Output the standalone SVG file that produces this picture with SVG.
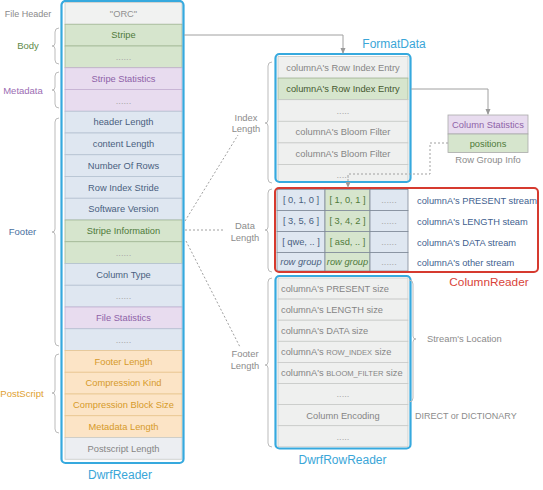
<svg xmlns="http://www.w3.org/2000/svg" width="543" height="490" viewBox="0 0 543 490">
<defs>
<marker id="arr" viewBox="0 0 6 6" refX="5" refY="3" markerWidth="6" markerHeight="6" orient="auto" markerUnits="userSpaceOnUse">
<path d="M0,0.5 L6,3 L0,5.5 z" fill="#999"/>
</marker>
<style>
text{font-family:"Liberation Sans",Arial,sans-serif;font-size:9.3px}
.c{text-anchor:middle}
.g rect{fill:#d6e5cd;stroke:#a3b896;stroke-width:0.8}
.g text{fill:#4f7a3a}
.p rect{fill:#e8dcef;stroke:#c4b0d2;stroke-width:0.8}
.p text{fill:#8e62a8}
.b rect{fill:#dfe7f1;stroke:#b5c2d2;stroke-width:0.8}
.b text{fill:#4a5f80}
.o rect{fill:#fce4c6;stroke:#e8c590;stroke-width:0.8}
.o text{fill:#d69a2a}
.n rect{fill:#eff0ef;stroke:#c8cac8;stroke-width:0.8}
.n text{fill:#858585}
.dots{fill:#aaa!important}
.outer{fill:none;stroke:#36a9de;stroke-width:2.2}
.title{font-size:12px;fill:#3aa6d8}
.side{font-size:9.5px}
.brace{fill:none;stroke:#bbb;stroke-width:1}
.lbl{font-size:9.4px;fill:#8c8c8c}
.conn{fill:none;stroke:#a0a0a0;stroke-width:1}
.dot{fill:none;stroke:#a0a0a0;stroke-width:1;stroke-dasharray:2,2}
.grid rect{stroke:#7f8b98;stroke-width:0.8}
.sm{font-size:7.6px}
</style>
</defs>
<rect width="543" height="490" fill="#ffffff"/>

<!-- Left side labels -->
<g id="left-labels">
<text class="c" x="28" y="17" fill="#8a8a8a" style="font-size:9px">File Header</text>
<text class="c side" x="28" y="49" fill="#5e8a4a">Body</text>
<text class="c side" x="23" y="94" fill="#9b6cb3">Metadata</text>
<text class="c side" x="22.5" y="235" fill="#4a6fa0">Footer</text>
<text class="c side" x="22" y="397" fill="#e0a030">PostScript</text>
<path class="brace" d="M59,28 Q55,28 55,32 L55,43 Q55,46 52,46 Q55,46 55,49 L55,60 Q55,64 59,64"/>
<path class="brace" d="M59,72 Q55,72 55,76 L55,87 Q55,90 52,90 Q55,90 55,93 L55,104 Q55,108 59,108"/>
<path class="brace" d="M59,118 Q55,118 55,122 L55,229 Q55,232 52,232 Q55,232 55,235 L55,342 Q55,346 59,346"/>
<path class="brace" d="M59,354 Q55,354 55,358 L55,390 Q55,393 52,393 Q55,393 55,396 L55,429 Q55,433 59,433"/>
</g>

<!-- DwrfReader -->
<g id="dwrf-reader">
<g class="n"><rect x="65" y="2.5" width="117" height="21.75" style="fill:#f1f2f1"/><text class="c" x="123.5" y="16.7" style="fill:#909090">"ORC"</text></g>
<g class="g"><rect x="65" y="24.25" width="117" height="21.75"/><text class="c" x="123.5" y="38.4">Stripe</text></g>
<g class="g"><rect x="65" y="46" width="117" height="21.75"/><text class="c dots" x="123.5" y="60.2">......</text></g>
<g class="p"><rect x="65" y="67.75" width="117" height="21.75"/><text class="c" x="123.5" y="81.9">Stripe Statistics</text></g>
<g class="p"><rect x="65" y="89.5" width="117" height="21.75"/><text class="c dots" x="123.5" y="103.7">......</text></g>
<g class="b"><rect x="65" y="111.25" width="117" height="21.75"/><text class="c" x="123.5" y="125.4">header Length</text></g>
<g class="b"><rect x="65" y="133" width="117" height="21.75"/><text class="c" x="123.5" y="147.2">content Length</text></g>
<g class="b"><rect x="65" y="154.75" width="117" height="21.75"/><text class="c" x="123.5" y="168.9">Number Of Rows</text></g>
<g class="b"><rect x="65" y="176.5" width="117" height="21.75"/><text class="c" x="123.5" y="190.7">Row Index Stride</text></g>
<g class="b"><rect x="65" y="198.25" width="117" height="21.75"/><text class="c" x="123.5" y="212.4">Software Version</text></g>
<g class="g"><rect x="65" y="220" width="117" height="21.75"/><text class="c" x="123.5" y="234.2">Stripe Information</text></g>
<g class="g"><rect x="65" y="241.75" width="117" height="21.75"/><text class="c dots" x="123.5" y="255.9">......</text></g>
<g class="b"><rect x="65" y="263.5" width="117" height="21.75"/><text class="c" x="123.5" y="277.7">Column Type</text></g>
<g class="b"><rect x="65" y="285.25" width="117" height="21.75"/><text class="c dots" x="123.5" y="299.4">......</text></g>
<g class="p"><rect x="65" y="307" width="117" height="21.75"/><text class="c" x="123.5" y="321.2">File Statistics</text></g>
<g class="b"><rect x="65" y="328.75" width="117" height="21.75"/><text class="c dots" x="123.5" y="342.9">......</text></g>
<g class="o"><rect x="65" y="350.5" width="117" height="21.75"/><text class="c" x="123.5" y="364.7">Footer Length</text></g>
<g class="o"><rect x="65" y="372.25" width="117" height="21.75"/><text class="c" x="123.5" y="386.4">Compression Kind</text></g>
<g class="o"><rect x="65" y="394" width="117" height="21.75"/><text class="c" x="123.5" y="408.2">Compression Block Size</text></g>
<g class="o"><rect x="65" y="415.75" width="117" height="21.75"/><text class="c" x="123.5" y="429.9">Metadata Length</text></g>
<g class="n"><rect x="65" y="437.5" width="117" height="21.75" style="fill:#eceef2"/><text class="c" x="123.5" y="451.7">Postscript Length</text></g>
<rect class="outer" x="61.5" y="1" width="122" height="462" rx="4"/>
<text class="c title" x="120" y="479">DwrfReader</text>
</g>

<!-- Middle labels and braces -->
<g id="length-labels">
<text class="c lbl" x="246" y="121">Index</text>
<text class="c lbl" x="246" y="132">Length</text>
<path class="brace" d="M272,62 Q268,62 268,66 L268,120 Q268,123 265,123 Q268,123 268,126 L268,179 Q268,183 272,183"/>
<text class="c lbl" x="245" y="229">Data</text>
<text class="c lbl" x="245" y="241">Length</text>
<path class="brace" d="M272,189 Q268,189 268,193 L268,227 Q268,230 265,230 Q268,230 268,233 L268,268 Q268,272 272,272"/>
<text class="c lbl" x="245" y="357">Footer</text>
<text class="c lbl" x="245" y="369">Length</text>
<path class="brace" d="M272,278 Q268,278 268,282 L268,362 Q268,365 265,365 Q268,365 268,368 L268,443 Q268,447 272,447"/>
</g>

<!-- FormatData -->
<g id="format-data">
<g class="n"><rect x="278" y="56.5" width="130" height="21.6"/><text class="c" x="343" y="70.6">columnA's Row Index Entry</text></g>
<g class="g"><rect x="278" y="78.1" width="130" height="21.6"/><text class="c" x="343" y="92.2" style="fill:#44582f">columnA's Row Index Entry</text></g>
<g class="n"><rect x="278" y="99.7" width="130" height="21.6"/><text class="c dots" x="343" y="113.8">.....</text></g>
<g class="n"><rect x="278" y="121.3" width="130" height="21.6"/><text class="c" x="343" y="135.4">columnA's Bloom Filter</text></g>
<g class="n"><rect x="278" y="142.9" width="130" height="21.6"/><text class="c" x="343" y="157">columnA's Bloom Filter</text></g>
<g class="n"><rect x="278" y="164.5" width="130" height="17"/><text class="c dots" x="343" y="178">.....</text></g>
<rect class="outer" x="275.5" y="54" width="135" height="128" rx="4"/>
<text class="c title" x="394" y="48">FormatData</text>
</g>

<!-- Row Group Info -->
<g id="row-group-info">
<g class="p"><rect x="448" y="115" width="80" height="19" style="stroke:#aaa"/><text class="c" x="488" y="127.8">Column Statistics</text></g>
<g class="g"><rect x="448" y="134" width="80" height="18.5" style="stroke:#aaa"/><text class="c" x="488" y="146.5">positions</text></g>
<text class="c lbl" x="488" y="163">Row Group Info</text>
</g>

<!-- ColumnReader -->
<g id="column-reader">
<g class="grid">
<g class="b"><rect x="277" y="189.5" width="48" height="21"/><text class="c" x="301" y="203.3">[ 0, 1, 0 ]</text></g>
<g class="g"><rect x="325" y="189.5" width="45" height="21"/><text class="c" x="347.5" y="203.3">[ 1, 0, 1 ]</text></g>
<g class="b"><rect x="370" y="189.5" width="38" height="21"/><text class="c dots" x="389" y="203.3">......</text></g>
<g class="b"><rect x="277" y="210.5" width="48" height="21"/><text class="c" x="301" y="224.3">[ 3, 5, 6 ]</text></g>
<g class="g"><rect x="325" y="210.5" width="45" height="21"/><text class="c" x="347.5" y="224.3">[ 3, 4, 2 ]</text></g>
<g class="b"><rect x="370" y="210.5" width="38" height="21"/><text class="c dots" x="389" y="224.3">......</text></g>
<g class="b"><rect x="277" y="231.5" width="48" height="21"/><text class="c" x="301" y="245.3">[ qwe, .. ]</text></g>
<g class="g"><rect x="325" y="231.5" width="45" height="21"/><text class="c" x="347.5" y="245.3">[ asd, .. ]</text></g>
<g class="b"><rect x="370" y="231.5" width="38" height="21"/><text class="c dots" x="389" y="245.3">......</text></g>
<g class="b"><rect x="277" y="252.5" width="48" height="18.5"/><text class="c" x="301" y="265" font-style="italic">row group</text></g>
<g class="g"><rect x="325" y="252.5" width="45" height="18.5"/><text class="c" x="347.5" y="265" font-style="italic">row group</text></g>
<g class="b"><rect x="370" y="252.5" width="38" height="18.5"/><text class="c dots" x="389" y="265">......</text></g>
</g>
<text x="417" y="204.3" fill="#3f5f8f">columnA's PRESENT stream</text>
<text x="417" y="225.3" fill="#3f5f8f">columnA's LENGTH steam</text>
<text x="417" y="246.3" fill="#3f5f8f">columnA's DATA stream</text>
<text x="417" y="266" fill="#3f5f8f">columnA's other stream</text>
<rect x="275" y="188" width="263" height="84" rx="4" fill="none" stroke="#d63a2f" stroke-width="2"/>
<text class="c" x="489" y="286" style="font-size:11.8px;fill:#d9443a">ColumnReader</text>
</g>

<!-- DwrfRowReader -->
<g id="dwrf-row-reader">
<g class="n"><rect x="278" y="278" width="130" height="21.1"/><text x="281" y="291.9">columnA's PRESENT size</text></g>
<g class="n"><rect x="278" y="299.1" width="130" height="21.1"/><text x="281" y="313">columnA's LENGTH size</text></g>
<g class="n"><rect x="278" y="320.2" width="130" height="21.1"/><text x="281" y="334.1">columnA's DATA size</text></g>
<g class="n"><rect x="278" y="341.3" width="130" height="21.1"/><text x="281" y="355.2">columnA's <tspan class="sm">ROW_INDEX</tspan> size</text></g>
<g class="n"><rect x="278" y="362.4" width="130" height="21.1"/><text x="281" y="376.3">columnA's <tspan class="sm">BLOOM_FILTER</tspan> size</text></g>
<g class="n"><rect x="278" y="383.5" width="130" height="21.1"/><text class="c dots" x="343" y="397.4">.....</text></g>
<g class="n"><rect x="278" y="404.6" width="130" height="21.1"/><text class="c" x="343" y="418.5">Column Encoding</text></g>
<g class="n"><rect x="278" y="425.7" width="130" height="21.1"/><text class="c dots" x="343" y="439.6">.....</text></g>
<rect class="outer" x="275.5" y="276" width="135" height="172.5" rx="4"/>
<text class="c title" x="342.5" y="464">DwrfRowReader</text>
<path class="brace" d="M409,280 Q413,280 413,284 L413,336 Q413,339 416,339 Q413,339 413,342 L413,398 Q413,402 409,402"/>
<text class="lbl" x="427" y="342">Stream's Location</text>
<text class="lbl" x="415" y="419" style="font-size:9px">DIRECT or DICTIONARY</text>
</g>

<!-- Connectors -->
<g id="connectors">
<path class="conn" d="M184,35 L343,35 L343,53" marker-end="url(#arr)"/>
<path class="conn" d="M411,89 L488,89 L488,114" marker-end="url(#arr)"/>
<path class="dot" d="M448,143 L430,143 L430,174 L348,174 L348,187" marker-end="url(#arr)"/>
<path class="dot" d="M185,221 L238,135"/>
<path class="dot" d="M185,230 L225,230"/>
<path class="dot" d="M186,241 L240,347"/>
</g>
</svg>
